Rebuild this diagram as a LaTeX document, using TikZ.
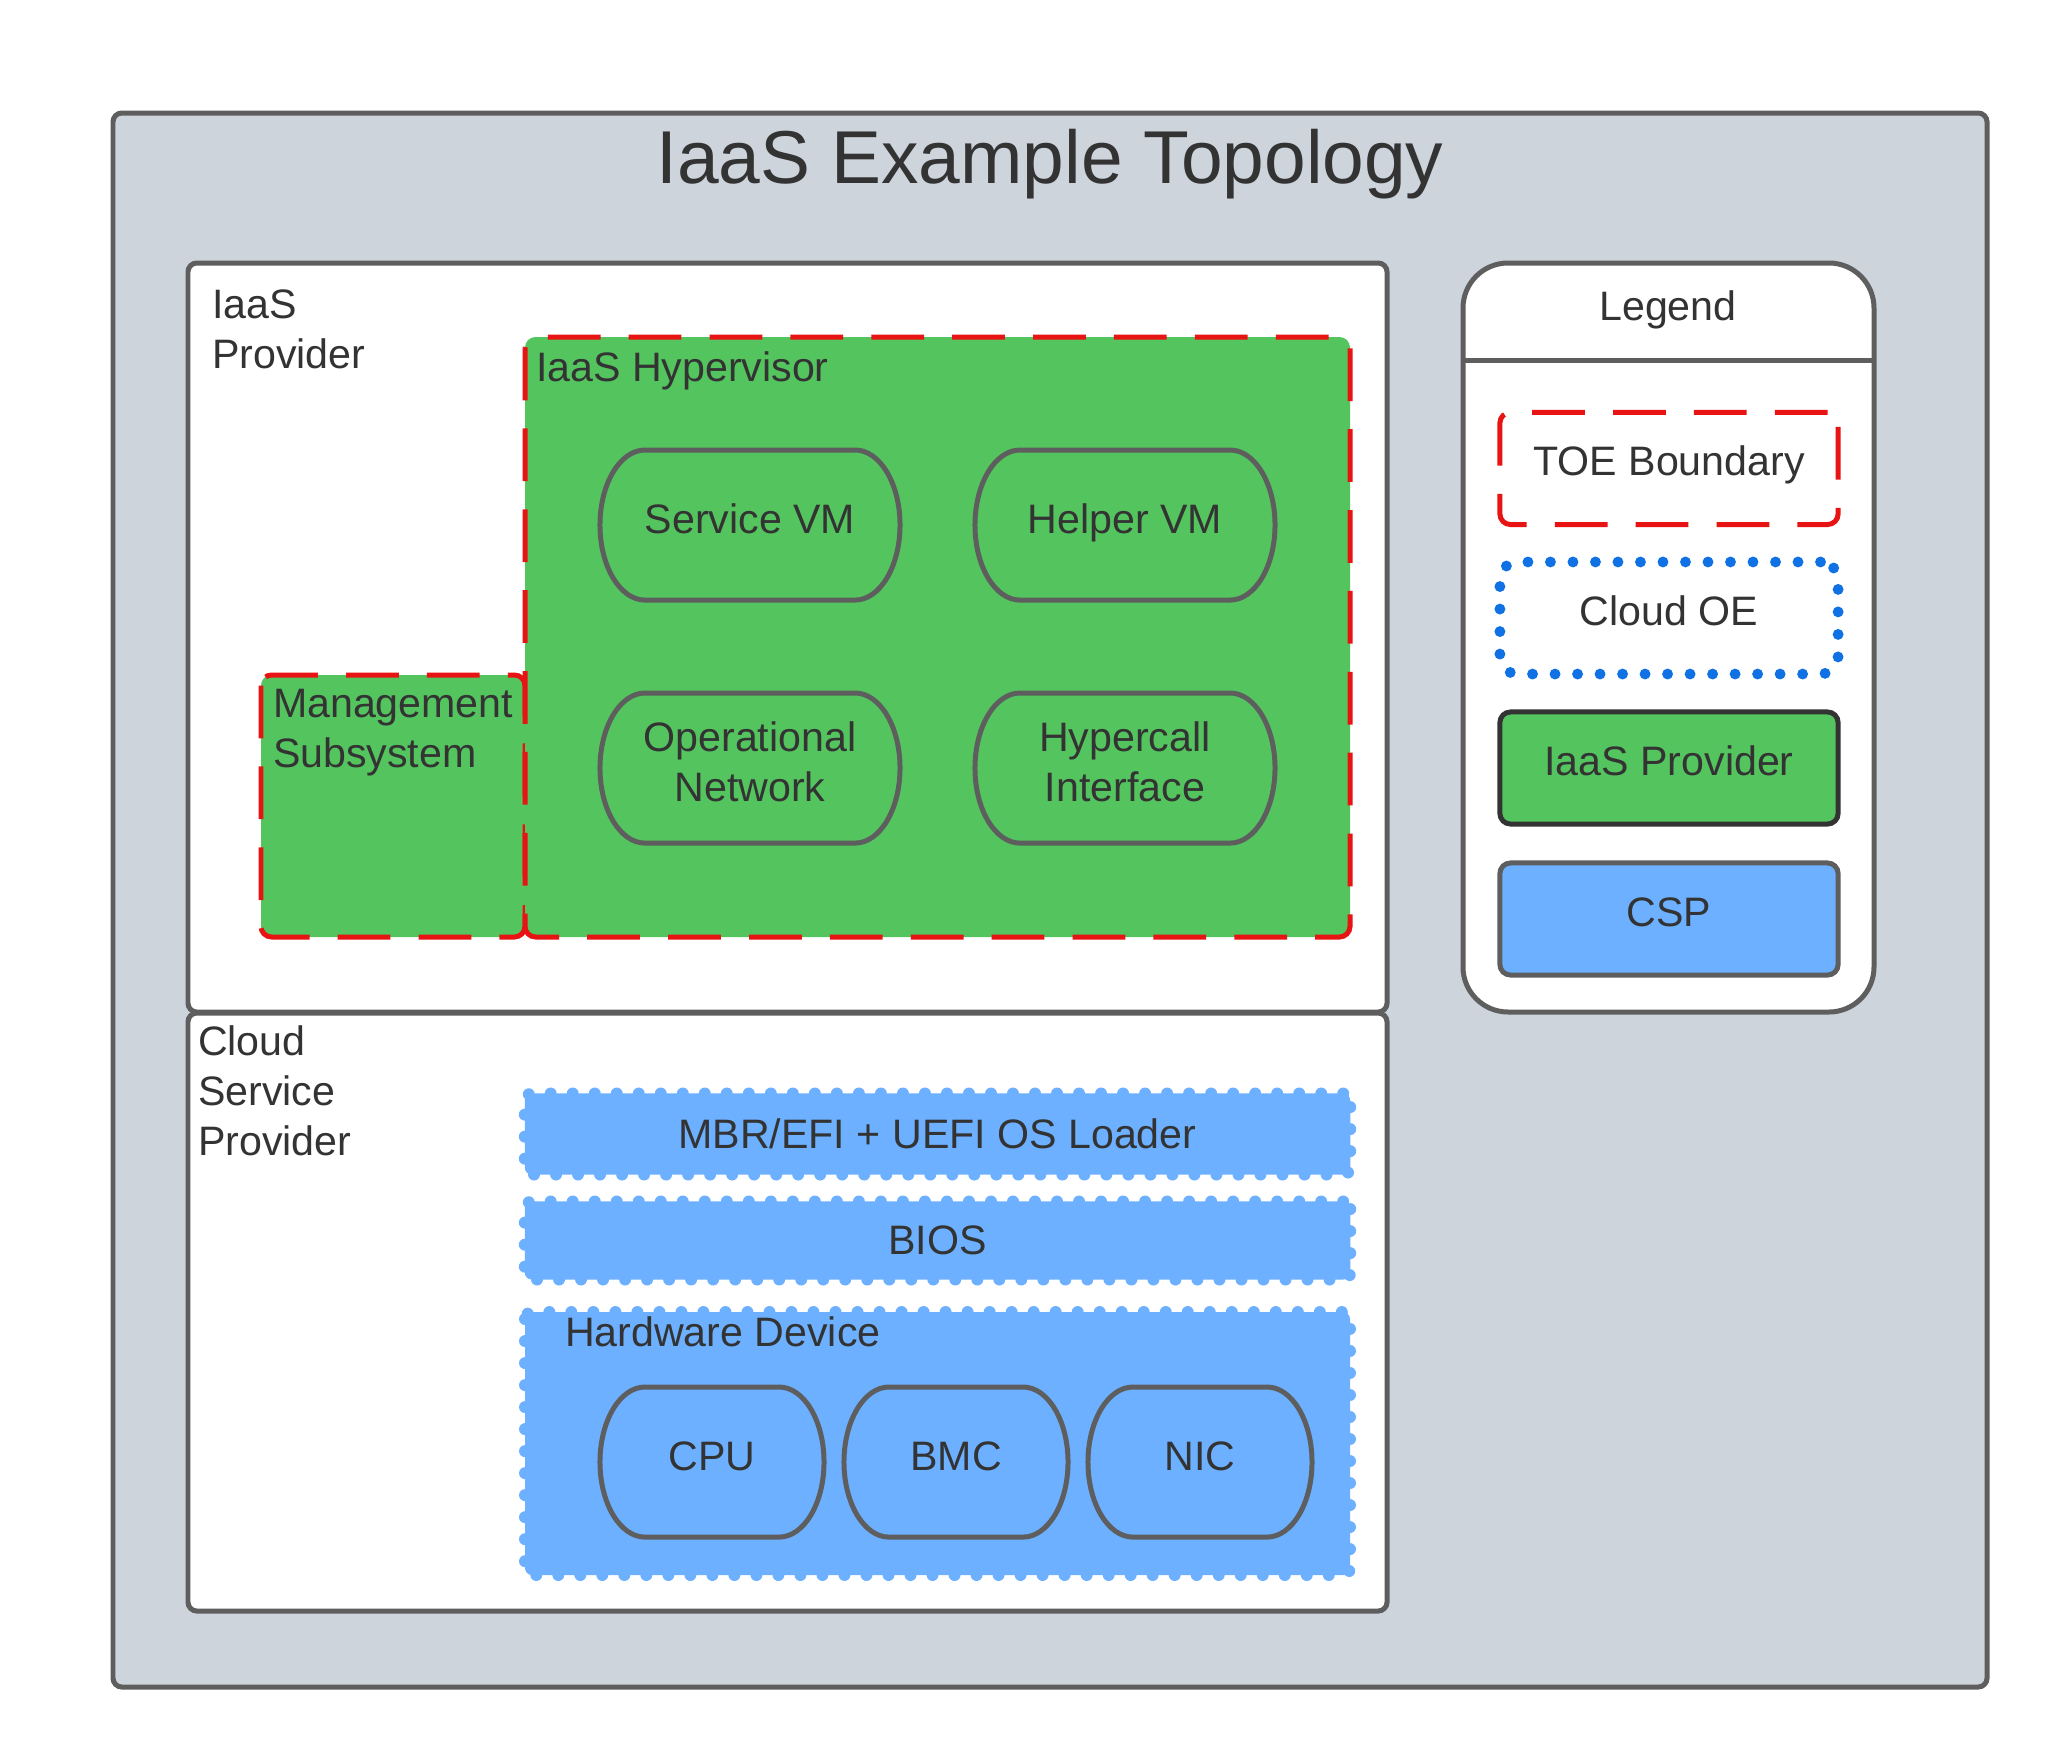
\documentclass[tikz,border=0pt]{standalone}
\usepackage{fontspec}
\setmainfont{Liberation Sans}
\definecolor{PanelGray}{RGB}{206,212,220}
\definecolor{EdgeGray}{RGB}{94,94,94}
\definecolor{IaasGreen}{RGB}{84,196,94}
\definecolor{CspBlue}{RGB}{108,176,255}
\definecolor{ToeRed}{RGB}{232,19,19}
\definecolor{OeBlue}{RGB}{16,113,229}
\definecolor{InkGray}{RGB}{51,51,51}
\newcommand{\pillshape}[6]{%
\draw[pillline, fill=#6] (#2,#3) ++(-#4+45,-75) -- ++(2*#4-90,0)
 arc[start angle=90, end angle=-90, x radius=0.45cm, y radius=0.75cm]
 -- ++(-2*#4+90,0)
 arc[start angle=270, end angle=90, x radius=0.45cm, y radius=0.75cm] -- cycle;
\node[txt, align=center, yshift=0.02cm] (#1) at (#2,#3) {\vphantom{Hy}#5\vphantom{y}};}

\begin{document}
\begin{tikzpicture}[x=0.01cm, y=-0.01cm,
txt/.style={text=InkGray, font=\fontsize{11.7}{14.2}\selectfont, inner sep=0pt, outer sep=0pt},
frame/.style={draw=EdgeGray, line width=1.42pt, rounded corners=2.5pt},
toe/.style={draw=ToeRed, line width=1.42pt, dash pattern=on 15pt off 8pt, rounded corners=3pt},
oe/.style={draw=CspBlue, fill=CspBlue, line width=3.4pt, line cap=round, dash pattern=on 0pt off 6.26pt, rounded corners=2pt},
pillline/.style={draw=EdgeGray, line width=1.42pt},
legbox/.style={txt, text height=8.7pt, text depth=4.6pt, minimum width=3.38cm, minimum height=1.12cm, rounded corners=3pt, line width=1.42pt}]
\fill[white] (0,0) rectangle (2063,1763);
\useasboundingbox (0,0) rectangle (2063,1763);
\draw[frame, fill=PanelGray] (113,113) rectangle (1987,1687);
\node[txt, font=\fontsize{21.3}{26}\selectfont, anchor=base] (title) at (1050,183) {IaaS Example Topology};
\draw[frame, fill=white] (188,1013) rectangle (1387,1611);
\draw[frame, fill=white] (188,263) rectangle (1387,1012);
\node[txt, anchor=base west, align=left] (iaaslbl) at (212,368) {IaaS\\Provider};
\node[txt, anchor=base west, align=left] (csplbl) at (198,1155) {Cloud\\Service\\Provider};
\draw[toe, fill=IaasGreen] (261,675) rectangle (525,937);
\draw[toe, fill=IaasGreen] (525,337) rectangle (1350,937);
\node[txt, anchor=base west, align=left] (mgmt) at (273,767) {Management\\Subsystem};
\node[txt, anchor=base west] (hyp) at (536,381) {IaaS Hypervisor};
\pillshape{svcvm}{750}{525}{150}{Service VM}{IaasGreen}
\pillshape{helpvm}{1125}{525}{150}{Helper VM}{IaasGreen}
\pillshape{opnet}{750}{768}{150}{Operational\\Network}{IaasGreen}
\pillshape{hcall}{1125}{768}{150}{Hypercall\\Interface}{IaasGreen}
\node[oe, txt, minimum width=8.25cm, minimum height=0.81cm, yshift=-0.015cm] (mbr) at (937.5,1132.5) {MBR/EFI + UEFI OS Loader};
\node[oe, txt, minimum width=8.25cm, minimum height=0.78cm, yshift=-0.015cm] (bios) at (937.5,1239) {BIOS};
\draw[oe] (525,1312) rectangle (1350,1575);
\node[txt, anchor=base west] (hw) at (565,1346) {Hardware Device};
\pillshape{cpu}{712}{1462}{112}{CPU}{CspBlue}
\pillshape{bmc}{956}{1462}{112}{BMC}{CspBlue}
\pillshape{nic}{1200}{1462}{112}{NIC}{CspBlue}
\draw[frame, fill=white, rounded corners=0.45cm] (1463,263) rectangle (1874,1012);
\draw[frame] (1463,360) -- (1874,360);
\node[txt, anchor=base] (legend) at (1668,320) {Legend};
\node[legbox, toe] (legtoe) at (1669,468.5) {TOE Boundary};
\node[legbox, draw=OeBlue, line width=3.1pt, line cap=round, dash pattern=on 0pt off 6.4pt, rounded corners=5pt] (legoe) at (1669,618) {Cloud OE};
\node[legbox, draw=InkGray, fill=IaasGreen] (legiaas) at (1669,768) {IaaS Provider};
\node[legbox, draw=EdgeGray, fill=CspBlue] (legcsp) at (1669,919) {CSP};
\end{tikzpicture}
\end{document}
